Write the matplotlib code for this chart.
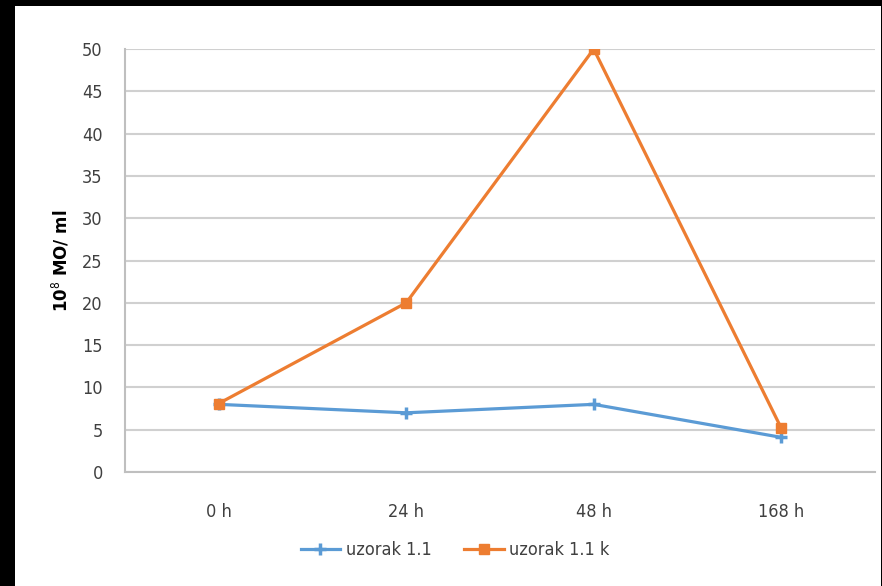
import matplotlib.pyplot as plt
import matplotlib.font_manager as fm

# Podaci
vremena = ['0 h', '24 h', '48 h', '168 h']
uzorak_11 = [8, 7, 8, 4.1]
uzorak_11k = [8.1, 20, 50, 5.2]
y_ticks = [0, 5, 10, 15, 20, 25, 30, 35, 40, 45, 50]

names = {f.name for f in fm.fontManager.ttflist}
narrow = 'Liberation Sans Narrow' if 'Liberation Sans Narrow' in names else 'DejaVu Sans'
plt.rcParams['font.family'] = [narrow, 'DejaVu Sans']
plt.rcParams['font.stretch'] = 'condensed'

fig = plt.figure(figsize=(8.82, 5.86), dpi=100)
fig.patch.set_facecolor('black')

# bijela podloga grafikona
bg = fig.add_axes([15 / 882, 0, 866 / 882, 580 / 586], zorder=-10)
bg.set_facecolor('white')
bg.set_xticks([])
bg.set_yticks([])
for s in bg.spines.values():
    s.set_visible(False)

ax = fig.add_axes([0.1417, 0.1945, 0.8503, 0.7218])
ax.set_facecolor('white')

x = range(len(vremena))
ax.plot(x, uzorak_11, color='#5B9BD5', lw=2.3, marker='+', ms=9, mew=2.5,
        label='uzorak 1.1', zorder=3)
ax.plot(x, uzorak_11k, color='#ED7D31', lw=2.3, marker='s', ms=7,
        label='uzorak 1.1 k', zorder=3)

ax.set_xlim(-0.5, len(vremena) - 0.5)
ax.set_ylim(0, 50)
ax.set_yticks(y_ticks)
ax.set_xticks(list(x))
ax.set_xticklabels(vremena)
ax.tick_params(length=0, labelsize=13, labelcolor='#404040')
ax.tick_params(axis='x', pad=22)
ax.tick_params(axis='y', pad=16)

ax.grid(axis='y', color='#D0D0D0', lw=1.5)
ax.set_axisbelow(True)
for s in ['top', 'right']:
    ax.spines[s].set_visible(False)
ax.spines['left'].set_color('#BFBFBF')
ax.spines['bottom'].set_color('#BFBFBF')
ax.spines['left'].set_linewidth(1.5)
ax.spines['bottom'].set_linewidth(1.5)

ax.set_ylabel('10$^{8}$ MO/ ml', fontsize=12, fontweight='bold',
              family='DejaVu Sans', fontstretch='normal', labelpad=8)

ax.legend(loc='upper center', bbox_to_anchor=(0.44, -0.125), ncol=2,
          frameon=False, fontsize=13, handlelength=2.2, handletextpad=0.3,
          columnspacing=1.8, labelcolor='#404040')

plt.savefig('out.png', dpi=100, facecolor=fig.get_facecolor())
